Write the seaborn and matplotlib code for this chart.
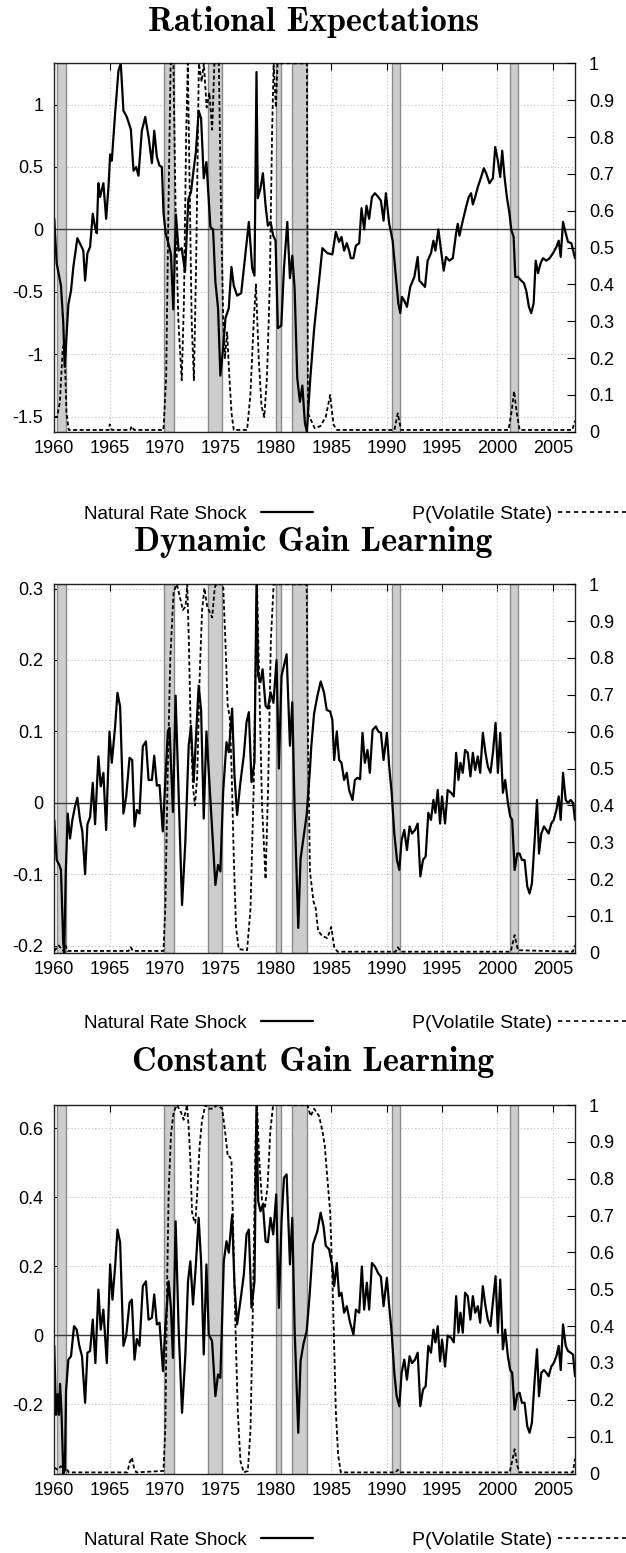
import matplotlib
matplotlib.use("Agg")
import matplotlib.pyplot as plt
from matplotlib.lines import Line2D
from matplotlib.ticker import FormatStrFormatter
import seaborn as sns

# NBER recessions (shaded bands)
recession_start = [1960.25, 1969.92, 1973.83, 1980.0, 1981.5, 1990.5, 2001.17]
recession_end = [1961.08, 1970.83, 1975.17, 1980.5, 1982.83, 1991.17, 2001.83]

# ---- Rational Expectations: natural rate shock ----
re_shock_year = [
    1960.00, 1960.21, 1960.45, 1960.60, 1960.81, 1960.94, 1961.27, 1961.51, 1961.72, 1962.08,
    1962.47, 1962.62, 1962.78, 1962.99, 1963.23, 1963.47, 1963.68, 1963.83, 1963.98, 1964.13,
    1964.43, 1964.68, 1964.89, 1965.04, 1965.19, 1965.49, 1965.79, 1966.00, 1966.24, 1966.55,
    1966.91, 1967.15, 1967.39, 1967.60, 1967.90, 1968.21, 1968.51, 1968.81, 1969.02, 1969.26,
    1969.50, 1969.71, 1969.86, 1970.05, 1970.32, 1970.53, 1970.74, 1970.98, 1971.22, 1971.50,
    1971.80, 1972.10, 1972.34, 1972.55, 1972.78, 1973.03, 1973.25, 1973.49, 1973.73, 1974.09,
    1974.33, 1974.54, 1974.78, 1974.99, 1975.24, 1975.45, 1975.75, 1975.99, 1976.20, 1976.50,
    1976.87, 1977.17, 1977.56, 1977.86, 1978.07, 1978.25, 1978.37, 1978.61, 1978.83, 1979.07,
    1979.28, 1979.52, 1979.76, 1979.97, 1980.18, 1980.49, 1980.73, 1981.03, 1981.27, 1981.48,
    1981.69, 1981.93, 1982.17, 1982.39, 1982.62, 1982.80, 1983.10, 1983.45, 1983.85, 1984.20,
    1984.65, 1985.10, 1985.41, 1985.71, 1985.92, 1986.16, 1986.40, 1986.61, 1986.76, 1987.00,
    1987.22, 1987.52, 1987.73, 1987.97, 1988.18, 1988.42, 1988.67, 1988.94, 1989.24, 1989.48,
    1989.72, 1989.93, 1990.23, 1990.54, 1990.84, 1991.05, 1991.23, 1991.38, 1991.59, 1991.83,
    1992.13, 1992.50, 1992.80, 1992.95, 1993.16, 1993.46, 1993.70, 1994.00, 1994.22, 1994.40,
    1994.67, 1994.91, 1995.15, 1995.36, 1995.66, 1995.97, 1996.27, 1996.42, 1996.57, 1996.87,
    1997.17, 1997.41, 1997.62, 1997.78, 1997.99, 1998.23, 1998.53, 1998.77, 1998.98, 1999.28,
    1999.59, 1999.80, 2000.04, 2000.25, 2000.43, 2000.64, 2000.85, 2001.09, 2001.24, 2001.46,
    2001.61, 2001.85, 2002.15, 2002.39, 2002.60, 2002.84, 2003.05, 2003.27, 2003.45, 2003.66,
    2003.90, 2004.11, 2004.41, 2004.71, 2005.02, 2005.32, 2005.53, 2005.71, 2005.92, 2006.16,
    2006.37, 2006.67, 2007.00]
re_shock = [
    0.085, -0.27, -0.38, -0.45, -0.75, -1.10, -0.60, -0.49, -0.30, -0.07,
    -0.14, -0.17, -0.41, -0.19, -0.14, 0.125, 0.02, -0.03, 0.37, 0.26,
    0.37, 0.085, 0.34, 0.60, 0.55, 0.93, 1.27, 1.33, 0.95, 0.90,
    0.80, 0.47, 0.50, 0.43, 0.79, 0.90, 0.74, 0.53, 0.79, 0.58,
    0.51, 0.50, 0.13, -0.03, -0.12, -0.20, -0.64, 0.12, -0.17, -0.15,
    -0.34, 0.24, 0.30, 0.46, 0.62, 0.95, 0.89, 0.41, 0.54, 0.02,
    0.00, -0.42, -0.63, -1.17, -0.95, -0.71, -0.63, -0.30, -0.45, -0.53,
    -0.51, -0.26, 0.06, -0.31, -0.37, 1.26, 0.25, 0.33, 0.45, 0.19,
    0.03, 0.06, -0.05, -0.09, -0.79, -0.77, -0.31, 0.06, -0.39, -0.21,
    -0.47, -1.19, -1.38, -1.25, -1.55, -1.62, -1.20, -0.80, -0.45, -0.15,
    -0.19, -0.20, -0.02, -0.10, -0.06, -0.17, -0.11, -0.17, -0.23, -0.23,
    -0.13, -0.11, 0.17, 0.00, 0.19, 0.085, 0.26, 0.29, 0.26, 0.23,
    0.07, 0.29, 0.045, -0.09, -0.38, -0.59, -0.67, -0.54, -0.57, -0.62,
    -0.46, -0.38, -0.22, -0.41, -0.43, -0.46, -0.25, -0.19, -0.09, -0.17,
    0.00, -0.17, -0.33, -0.22, -0.25, -0.23, -0.03, 0.045, -0.05, 0.07,
    0.18, 0.26, 0.29, 0.20, 0.26, 0.34, 0.42, 0.49, 0.45, 0.37,
    0.41, 0.66, 0.55, 0.42, 0.63, 0.42, 0.26, 0.125, 0.00, -0.06,
    -0.38, -0.38, -0.41, -0.43, -0.49, -0.62, -0.67, -0.59, -0.25, -0.35,
    -0.27, -0.23, -0.25, -0.23, -0.19, -0.14, -0.09, -0.22, 0.06, -0.03,
    -0.10, -0.11, -0.23]

# ---- Rational Expectations: probability of the volatile state ----
re_prob_year = [
    1960.00, 1960.25, 1960.50, 1960.75, 1960.90, 1961.10, 1961.30, 1964.90, 1965.00, 1965.20,
    1966.85, 1967.00, 1967.20, 1969.85, 1970.10, 1970.30, 1970.50, 1970.75, 1970.95, 1971.20,
    1971.50, 1971.70, 1971.90, 1972.05, 1972.20, 1972.40, 1972.60, 1972.80, 1973.05, 1973.30,
    1973.50, 1973.75, 1974.00, 1974.25, 1974.45, 1974.85, 1975.05, 1975.25, 1975.40, 1975.60,
    1975.80, 1976.00, 1976.20, 1977.40, 1977.70, 1978.00, 1978.20, 1978.45, 1978.70, 1978.95,
    1979.20, 1979.45, 1979.65, 1979.80, 1980.00, 1980.15, 1982.80, 1982.90, 1983.20, 1983.50,
    1984.00, 1984.50, 1984.90, 1985.20, 1985.50, 1990.70, 1991.00, 1991.30, 2001.00, 2001.30,
    2001.50, 2001.75, 2002.00, 2006.75, 2007.00]
re_prob = [
    0.04, 0.04, 0.08, 0.22, 0.25, 0.05, 0.005, 0.005, 0.02, 0.005,
    0.005, 0.015, 0.005, 0.005, 0.15, 0.60, 1.00, 1.00, 0.60, 0.30,
    0.14, 0.35, 0.80, 1.00, 0.70, 0.30, 0.14, 0.45, 1.00, 0.95,
    1.00, 0.88, 0.92, 0.82, 1.00, 1.00, 0.60, 0.30, 0.20, 0.27,
    0.15, 0.05, 0.005, 0.005, 0.10, 0.30, 0.40, 0.20, 0.07, 0.04,
    0.15, 0.40, 0.80, 1.00, 0.88, 1.00, 1.00, 0.05, 0.03, 0.01,
    0.015, 0.04, 0.10, 0.02, 0.005, 0.005, 0.05, 0.005, 0.005, 0.06,
    0.11, 0.05, 0.005, 0.005, 0.03]

# ---- Dynamic Gain Learning: natural rate shock ----
dg_shock_year = [
    1960.00, 1960.21, 1960.45, 1960.60, 1960.81, 1960.90, 1961.03, 1961.21, 1961.42, 1961.63,
    1961.87, 1962.08, 1962.32, 1962.53, 1962.78, 1962.99, 1963.23, 1963.47, 1963.68, 1963.98,
    1964.19, 1964.43, 1964.68, 1964.98, 1965.19, 1965.49, 1965.70, 1965.94, 1966.24, 1966.49,
    1966.79, 1967.03, 1967.24, 1967.45, 1967.69, 1967.99, 1968.27, 1968.51, 1968.81, 1969.02,
    1969.26, 1969.50, 1969.79, 1970.02, 1970.25, 1970.40, 1970.71, 1970.95, 1971.53, 1971.83,
    1972.13, 1972.34, 1972.58, 1972.82, 1973.03, 1973.25, 1973.49, 1973.73, 1974.03, 1974.24,
    1974.54, 1974.78, 1974.99, 1975.24, 1975.54, 1975.75, 1976.05, 1976.26, 1976.50, 1976.80,
    1977.11, 1977.35, 1977.56, 1977.80, 1978.07, 1978.25, 1978.40, 1978.61, 1978.80, 1979.07,
    1979.28, 1979.52, 1979.78, 1980.06, 1980.27, 1980.51, 1980.73, 1980.97, 1981.27, 1981.48,
    1981.69, 1982.02, 1982.23, 1982.48, 1982.78, 1983.08, 1983.20, 1983.45, 1983.75, 1984.05,
    1984.35, 1984.59, 1984.90, 1985.10, 1985.26, 1985.50, 1985.71, 1985.92, 1986.16, 1986.40,
    1986.61, 1986.92, 1987.13, 1987.37, 1987.60, 1987.82, 1988.03, 1988.27, 1988.48, 1988.73,
    1989.03, 1989.24, 1989.48, 1989.72, 1990.02, 1990.23, 1990.45, 1990.69, 1990.93, 1991.14,
    1991.35, 1991.59, 1991.83, 1992.07, 1992.29, 1992.56, 1992.80, 1993.04, 1993.28, 1993.52,
    1993.76, 1994.00, 1994.22, 1994.40, 1994.61, 1994.82, 1995.00, 1995.27, 1995.51, 1995.82,
    1996.06, 1996.27, 1996.48, 1996.66, 1996.87, 1997.08, 1997.32, 1997.56, 1997.78, 1997.99,
    1998.23, 1998.44, 1998.68, 1998.92, 1999.13, 1999.37, 1999.59, 1999.83, 2000.04, 2000.25,
    2000.49, 2000.70, 2000.94, 2001.15, 2001.33, 2001.55, 2001.79, 2002.00, 2002.21, 2002.45,
    2002.69, 2002.90, 2003.11, 2003.36, 2003.57, 2003.75, 2003.96, 2004.20, 2004.41, 2004.62,
    2004.86, 2005.08, 2005.32, 2005.53, 2005.71, 2005.92, 2006.16, 2006.37, 2006.61, 2006.82,
    2007.00]
dg_shock = [
    -0.024, -0.08, -0.087, -0.094, -0.197, -0.21, -0.10, -0.015, -0.05, -0.024,
    -0.005, 0.007, -0.024, -0.04, -0.10, -0.03, -0.02, 0.028, -0.03, 0.065,
    0.023, 0.042, -0.038, 0.10, 0.056, 0.107, 0.154, 0.135, -0.015, 0.009,
    0.063, 0.06, -0.033, -0.01, -0.015, 0.079, 0.086, 0.032, 0.032, 0.066,
    0.024, 0.025, -0.04, 0.03, 0.10, 0.105, -0.013, 0.15, -0.143, -0.054,
    0.08, 0.108, 0.029, 0.10, 0.164, 0.13, -0.022, 0.10, 0.02, -0.036,
    -0.115, -0.087, -0.096, 0.015, 0.085, 0.071, 0.132, 0.039, -0.017, 0.029,
    0.067, 0.113, 0.127, 0.029, 0.057, 0.306, 0.178, 0.169, 0.187, 0.136,
    0.132, 0.155, 0.14, 0.20, 0.048, 0.178, 0.192, 0.208, 0.08, 0.141,
    -0.008, -0.175, -0.078, -0.05, -0.017, 0.048, 0.08, 0.125, 0.15, 0.17,
    0.154, 0.13, 0.128, 0.116, 0.06, 0.10, 0.06, 0.056, 0.032, 0.042,
    0.018, 0.004, 0.032, 0.035, 0.033, 0.098, 0.056, 0.074, 0.042, 0.102,
    0.107, 0.10, 0.098, 0.06, 0.098, 0.051, 0.014, -0.043, -0.08, -0.094,
    -0.052, -0.038, -0.066, -0.033, -0.043, -0.038, -0.029, -0.103, -0.08, -0.075,
    -0.014, -0.024, 0.004, -0.014, 0.018, -0.029, 0.009, -0.029, 0.018, 0.014,
    0.009, 0.07, 0.032, 0.056, 0.042, 0.074, 0.07, 0.037, 0.07, 0.046,
    0.065, 0.042, 0.098, 0.07, 0.051, 0.042, 0.07, 0.112, 0.042, 0.098,
    0.014, 0.032, 0.0, -0.019, -0.024, -0.094, -0.071, -0.071, -0.08, -0.08,
    -0.117, -0.127, -0.113, -0.052, 0.004, -0.071, -0.043, -0.033, -0.038, -0.043,
    -0.029, -0.024, -0.01, 0.009, -0.024, 0.042, 0.004, 0.0, 0.004, 0.0,
    -0.024]

# ---- Dynamic Gain Learning: probability of the volatile state ----
dg_prob_year = [
    1960.00, 1960.40, 1960.80, 1961.00, 1961.20, 1966.70, 1966.90, 1967.10, 1969.85, 1970.02,
    1970.23, 1970.47, 1970.77, 1971.07, 1971.30, 1971.60, 1971.85, 1972.00, 1972.15, 1972.30,
    1972.52, 1972.70, 1972.90, 1973.12, 1973.34, 1973.55, 1973.80, 1974.09, 1974.25, 1974.48,
    1974.60, 1975.24, 1975.45, 1975.65, 1975.84, 1976.00, 1976.20, 1976.40, 1976.65, 1977.40,
    1977.71, 1978.00, 1978.20, 1978.30, 1978.45, 1978.75, 1979.07, 1979.30, 1979.55, 1979.80,
    1982.78, 1982.90, 1983.08, 1983.39, 1983.60, 1983.81, 1984.20, 1984.65, 1985.00, 1985.26,
    1985.56, 1990.80, 1991.00, 1991.30, 2001.20, 2001.55, 2001.85, 2006.80, 2007.00]
dg_prob = [
    0.005, 0.02, 0.005, 0.02, 0.005, 0.005, 0.015, 0.005, 0.005, 0.12,
    0.48, 0.80, 0.98, 1.00, 0.97, 0.93, 0.94, 1.00, 0.84, 0.62,
    0.45, 0.40, 0.48, 0.75, 0.93, 0.99, 0.94, 0.92, 0.91, 0.99,
    1.00, 1.00, 0.84, 0.67, 0.64, 0.50, 0.26, 0.07, 0.01, 0.007,
    0.12, 0.45, 0.85, 1.00, 0.80, 0.40, 0.20, 0.45, 0.85, 1.00,
    1.00, 0.58, 0.22, 0.14, 0.12, 0.06, 0.045, 0.04, 0.07, 0.016,
    0.003, 0.003, 0.015, 0.003, 0.003, 0.048, 0.007, 0.003, 0.02]

# ---- Constant Gain Learning: natural rate shock ----
cg_shock_year = [
    1960.00, 1960.15, 1960.30, 1960.42, 1960.52, 1960.65, 1960.81, 1960.95, 1961.06, 1961.27,
    1961.51, 1961.78, 1962.02, 1962.26, 1962.50, 1962.78, 1962.99, 1963.23, 1963.47, 1963.71,
    1963.98, 1964.19, 1964.43, 1964.74, 1965.04, 1965.25, 1965.49, 1965.70, 1965.94, 1966.24,
    1966.49, 1966.79, 1967.00, 1967.24, 1967.45, 1967.69, 1967.99, 1968.27, 1968.51, 1968.81,
    1969.02, 1969.26, 1969.50, 1969.81, 1970.02, 1970.32, 1970.53, 1970.71, 1970.95, 1971.22,
    1971.53, 1971.83, 1972.07, 1972.28, 1972.52, 1972.76, 1973.03, 1973.25, 1973.49, 1973.73,
    1973.94, 1974.24, 1974.54, 1974.78, 1974.99, 1975.30, 1975.54, 1975.75, 1976.05, 1976.26,
    1976.50, 1976.80, 1977.11, 1977.35, 1977.56, 1977.80, 1978.07, 1978.25, 1978.40, 1978.61,
    1978.83, 1979.07, 1979.28, 1979.52, 1979.76, 1980.03, 1980.27, 1980.51, 1980.73, 1980.97,
    1981.27, 1981.48, 1981.69, 1982.02, 1982.23, 1982.48, 1982.78, 1983.05, 1983.35, 1983.74,
    1984.04, 1984.30, 1984.50, 1984.80, 1985.10, 1985.26, 1985.50, 1985.71, 1985.92, 1986.16,
    1986.40, 1986.70, 1987.00, 1987.22, 1987.52, 1987.76, 1987.97, 1988.21, 1988.42, 1988.67,
    1988.94, 1989.24, 1989.48, 1989.72, 1990.02, 1990.23, 1990.45, 1990.69, 1990.90, 1991.14,
    1991.35, 1991.59, 1991.83, 1992.07, 1992.29, 1992.56, 1992.80, 1993.04, 1993.28, 1993.52,
    1993.76, 1994.00, 1994.22, 1994.40, 1994.61, 1994.82, 1995.00, 1995.27, 1995.51, 1995.82,
    1996.06, 1996.27, 1996.48, 1996.66, 1996.87, 1997.08, 1997.32, 1997.56, 1997.78, 1997.99,
    1998.23, 1998.44, 1998.68, 1998.92, 1999.13, 1999.37, 1999.59, 1999.83, 2000.04, 2000.25,
    2000.49, 2000.70, 2000.94, 2001.15, 2001.33, 2001.55, 2001.79, 2002.00, 2002.21, 2002.45,
    2002.69, 2002.90, 2003.11, 2003.36, 2003.57, 2003.75, 2003.96, 2004.20, 2004.41, 2004.62,
    2004.86, 2005.08, 2005.32, 2005.53, 2005.71, 2005.92, 2006.16, 2006.37, 2006.61, 2006.82,
    2007.00]
cg_shock = [
    -0.03, -0.23, -0.17, -0.23, -0.14, -0.22, -0.40, -0.39, -0.16, -0.07,
    -0.06, 0.027, 0.017, -0.03, -0.06, -0.195, -0.05, -0.045, 0.046, -0.08,
    0.133, 0.017, 0.075, -0.08, 0.206, 0.104, 0.20, 0.307, 0.27, -0.03,
    0.0, 0.095, 0.104, -0.07, -0.01, -0.03, 0.143, 0.157, 0.046, 0.051,
    0.119, 0.032, 0.037, -0.103, 0.022, 0.157, 0.08, -0.065, 0.331, 0.022,
    -0.224, -0.055, 0.157, 0.215, 0.09, 0.196, 0.341, 0.215, -0.055, 0.206,
    0.003, -0.016, -0.176, -0.113, -0.123, 0.215, 0.273, 0.24, 0.35, 0.148,
    0.032, 0.10, 0.177, 0.293, 0.307, 0.08, 0.157, 0.668, 0.39, 0.36,
    0.38, 0.273, 0.27, 0.341, 0.293, 0.409, 0.08, 0.331, 0.457, 0.467,
    0.206, 0.341, 0.022, -0.282, -0.074, -0.026, 0.013, 0.119, 0.264, 0.302,
    0.356, 0.317, 0.26, 0.25, 0.20, 0.143, 0.21, 0.114, 0.124, 0.066,
    0.085, 0.037, 0.003, 0.075, 0.066, 0.20, 0.075, 0.153, 0.075, 0.21,
    0.20, 0.18, 0.17, 0.085, 0.167, 0.085, 0.008, -0.108, -0.176, -0.205,
    -0.108, -0.07, -0.128, -0.06, -0.08, -0.07, -0.05, -0.205, -0.157, -0.147,
    -0.03, -0.05, 0.017, -0.02, 0.027, -0.075, -0.012, -0.09, 0.0, -0.007,
    -0.02, 0.114, 0.008, 0.066, 0.008, 0.124, 0.114, 0.046, 0.114, 0.066,
    0.085, 0.037, 0.143, 0.085, 0.046, 0.027, 0.095, 0.172, 0.008, 0.162,
    -0.04, 0.017, -0.06, -0.10, -0.108, -0.215, -0.17, -0.166, -0.195, -0.195,
    -0.263, -0.282, -0.253, -0.128, -0.04, -0.176, -0.108, -0.10, -0.108, -0.118,
    -0.09, -0.08, -0.06, -0.03, -0.10, 0.032, -0.03, -0.045, -0.05, -0.055,
    -0.118]

# ---- Constant Gain Learning: probability of the volatile state ----
cg_prob_year = [
    1960.00, 1960.30, 1960.60, 1960.90, 1961.10, 1961.30, 1966.60, 1966.80, 1967.00, 1967.20,
    1967.40, 1969.85, 1970.02, 1970.17, 1970.32, 1970.53, 1970.77, 1971.07, 1971.44, 1971.68,
    1971.98, 1972.13, 1972.28, 1972.43, 1972.58, 1972.73, 1972.90, 1973.12, 1973.34, 1973.64,
    1973.94, 1974.30, 1974.69, 1975.15, 1975.45, 1975.66, 1975.84, 1975.99, 1976.14, 1976.35,
    1976.56, 1976.80, 1977.10, 1977.47, 1977.71, 1977.95, 1978.16, 1978.30, 1978.50, 1978.75,
    1979.00, 1979.25, 1979.50, 1979.75, 1982.84, 1983.14, 1983.45, 1983.90, 1984.20, 1984.41,
    1984.65, 1984.90, 1985.10, 1985.26, 1985.41, 1985.62, 1985.86, 1990.80, 1991.00, 1991.20,
    2001.10, 2001.30, 2001.55, 2001.80, 2002.00, 2006.80, 2007.00]
cg_prob = [
    0.016, 0.01, 0.02, 0.008, 0.015, 0.003, 0.003, 0.03, 0.043, 0.015,
    0.003, 0.007, 0.12, 0.49, 0.76, 0.92, 0.98, 1.00, 0.98, 0.96,
    1.00, 0.94, 0.85, 0.71, 0.69, 0.68, 0.76, 0.89, 0.96, 1.00,
    0.99, 0.99, 1.00, 0.99, 0.92, 0.86, 0.86, 0.85, 0.67, 0.40,
    0.17, 0.034, 0.003, 0.007, 0.12, 0.49, 0.90, 1.00, 0.85, 0.74,
    0.72, 0.78, 0.93, 1.00, 1.00, 0.97, 0.99, 0.97, 0.93, 0.89,
    0.80, 0.71, 0.53, 0.35, 0.17, 0.05, 0.003, 0.003, 0.01, 0.003,
    0.003, 0.03, 0.066, 0.02, 0.003, 0.003, 0.04]

panel_titles = ["Rational Expectations", "Dynamic Gain Learning", "Constant Gain Learning"]
shock_years = [re_shock_year, dg_shock_year, cg_shock_year]
shocks = [re_shock, dg_shock, cg_shock]
prob_years = [re_prob_year, dg_prob_year, cg_prob_year]
probs = [re_prob, dg_prob, cg_prob]
shock_ticks = [[-1.5, -1, -0.5, 0, 0.5, 1],
               [-0.2, -0.1, 0, 0.1, 0.2, 0.3],
               [-0.2, 0, 0.2, 0.4, 0.6]]
year_ticks = [1960, 1965, 1970, 1975, 1980, 1985, 1990, 1995, 2000, 2005]
prob_ticks = [0, 0.1, 0.2, 0.3, 0.4, 0.5, 0.6, 0.7, 0.8, 0.9, 1]
legend_labels = ["Natural Rate Shock", "P(Volatile State)"]

# axis limits (gnuplot "autoscale fix" style: data min/max)
shock_limits = [(-1.62, 1.33), (-0.21, 0.306), (-0.40, 0.668)]

sns.set_style("white")
plt.rcParams["font.family"] = ["Liberation Sans", "DejaVu Sans"]
plt.rcParams["axes.unicode_minus"] = False
plt.rcParams["text.color"] = "black"
plt.rcParams["xtick.color"] = "black"
plt.rcParams["ytick.color"] = "black"

W, H = 626, 1553
fig = plt.figure(figsize=(W / 100, H / 100), dpi=100)

box_left, box_width, box_height = 54.3, 520.7, 368.5
box_tops = [63.3, 584.3, 1105.0]
title_centres = [22, 542, 1062]
legend_centres = [514, 1023, 1540]

solid_style = dict(color="black", linewidth=1.6)
dash_style = dict(color="black", linewidth=1.3, linestyle=(0, (2.2, 1.4)))

for i in range(3):
    top = box_tops[i]
    ax = fig.add_axes([box_left / W, 1 - (top + box_height) / H, box_width / W, box_height / H])

    for s, e in zip(recession_start, recession_end):
        ax.axvspan(s, e, facecolor="#cdcdcd", edgecolor="#8a8a8a", linewidth=1.0, zorder=1)
    ax.axhline(0, color="#3a3a3a", linewidth=1.0, zorder=2)

    sns.lineplot(x=shock_years[i], y=shocks[i], ax=ax, estimator=None, sort=False,
                 zorder=4, **solid_style)

    ax.set_xlim(1960, 2007)
    ax.set_ylim(*shock_limits[i])
    ax.set_xticks(year_ticks)
    ax.set_yticks(shock_ticks[i])
    ax.yaxis.set_major_formatter(FormatStrFormatter("%g"))
    ax.grid(True, color="#b5b5b5", linewidth=0.7, linestyle=(0, (1, 2.5)))
    ax.tick_params(axis="both", direction="in", length=5, width=0.8, labelsize=13,
                   top=True, right=True, labelright=False)
    ax.tick_params(axis="x", pad=6)
    ax.tick_params(axis="y", pad=8)
    ax.set_xlabel("")
    ax.set_ylabel("")
    for sp in ax.spines.values():
        sp.set_color("#222222")
        sp.set_linewidth(1.0)
        sp.set_zorder(6)

    ax2 = ax.twinx()
    sns.lineplot(x=prob_years[i], y=probs[i], ax=ax2, estimator=None, sort=False,
                 **dash_style)
    ax2.set_ylim(0, 1)
    ax2.set_yticks(prob_ticks)
    ax2.yaxis.set_major_formatter(FormatStrFormatter("%g"))
    ax2.tick_params(axis="y", direction="in", length=6, width=0.8, labelsize=13, pad=10)
    ax2.set_ylabel("")
    for sp in ax2.spines.values():
        sp.set_visible(False)

    fig.text(0.5, 1 - title_centres[i] / H, panel_titles[i], ha="center", va="center",
             fontsize=24.5, color="black", family=["cmb10", "DejaVu Serif"])

    # gnuplot-style key: label first, then the line sample
    y_leg = 1 - legend_centres[i] / H
    h_solid = Line2D([], [], **solid_style)
    h_dash = Line2D([], [], color="black", linewidth=1.2, linestyle=(0, (2.6, 2.2)))
    fig.legend([h_solid], legend_labels[:1], loc="center right",
               bbox_to_anchor=(313 / W, y_leg), markerfirst=False, frameon=False,
               fontsize=13.5, handlelength=2.8, handletextpad=0.75,
               borderpad=0, borderaxespad=0)
    fig.legend([h_dash], legend_labels[1:], loc="center right",
               bbox_to_anchor=(626 / W, y_leg), markerfirst=False, frameon=False,
               fontsize=14, handlelength=3.5, handletextpad=0.3,
               borderpad=0, borderaxespad=0)

fig.savefig("out.png", dpi=100)
